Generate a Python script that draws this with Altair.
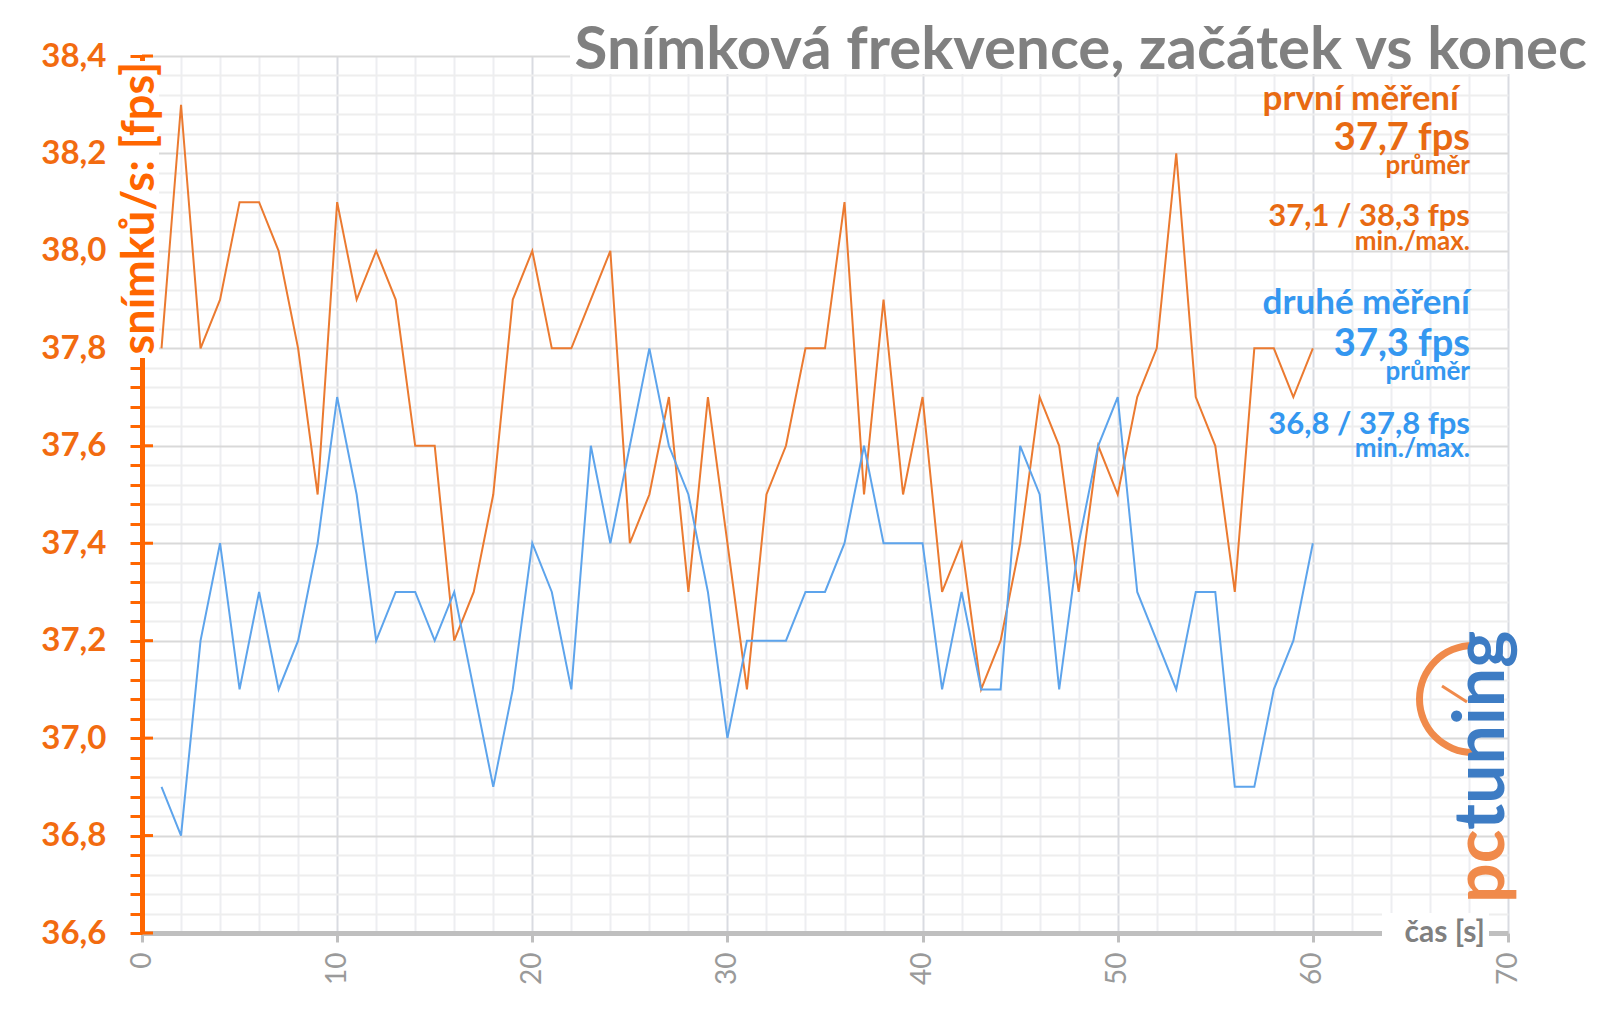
import altair as alt
import pandas as pd

# ---------------- data ----------------
TIME = list(range(1, 61))
FIRST = [37.8, 38.3, 37.8, 37.9, 38.1, 38.1, 38.0, 37.8, 37.5, 38.1,
         37.9, 38.0, 37.9, 37.6, 37.6, 37.2, 37.3, 37.5, 37.9, 38.0,
         37.8, 37.8, 37.9, 38.0, 37.4, 37.5, 37.7, 37.3, 37.7, 37.4,
         37.1, 37.5, 37.6, 37.8, 37.8, 38.1, 37.5, 37.9, 37.5, 37.7,
         37.3, 37.4, 37.1, 37.2, 37.4, 37.7, 37.6, 37.3, 37.6, 37.5,
         37.7, 37.8, 38.2, 37.7, 37.6, 37.3, 37.8, 37.8, 37.7, 37.8]
SECOND = [36.9, 36.8, 37.2, 37.4, 37.1, 37.3, 37.1, 37.2, 37.4, 37.7,
          37.5, 37.2, 37.3, 37.3, 37.2, 37.3, 37.1, 36.9, 37.1, 37.4,
          37.3, 37.1, 37.6, 37.4, 37.6, 37.8, 37.6, 37.5, 37.3, 37.0,
          37.2, 37.2, 37.2, 37.3, 37.3, 37.4, 37.6, 37.4, 37.4, 37.4,
          37.1, 37.3, 37.1, 37.1, 37.6, 37.5, 37.1, 37.4, 37.6, 37.7,
          37.3, 37.2, 37.1, 37.3, 37.3, 36.9, 36.9, 37.1, 37.2, 37.4]
SERIES = ["první měření", "druhé měření"]
AVERAGES = ["37,7 fps", "37,3 fps"]
MINMAX = ["37,1 / 38,3 fps", "36,8 / 37,8 fps"]
AVG_NOTE = "průměr"
MINMAX_NOTE = "min./max."
TITLE = "Snímková frekvence, začátek vs konec"
Y_TITLE = "snímků/s: [fps]"
X_TITLE = "čas [s]"
X_TICKS = list(range(0, 72, 2))
Y_TICKS = [round(36.6 + 0.04 * i, 2) for i in range(46)]
Y_MAJOR = [36.6, 36.8, 37.0, 37.2, 37.4, 37.6, 37.8, 38.0, 38.2, 38.4]

FONT = "Lato"
ORANGE_LINE = "#EB7A30"
BLUE_LINE = "#5DA4EC"
ORANGE_TEXT = "#E86A12"
BLUE_TEXT = "#3497F0"
AXIS_ORANGE = "#FF6600"
GRAY = "#808080"

W, H = 1366, 877

df = pd.DataFrame({
    "t": TIME * 2,
    "fps": FIRST + SECOND,
    "serie": [SERIES[0]] * 60 + [SERIES[1]] * 60,
})

one = pd.DataFrame({"a": [0]})

major_y_test = "abs(datum.value*5 - round(datum.value*5)) < 0.01"
major_x_test = "datum.value % 10 == 0"

x_scale = alt.Scale(domain=[0, 70], nice=False, zero=False)
y_scale = alt.Scale(domain=[36.6, 38.4], nice=False, zero=False)

x_axis = alt.Axis(
    values=X_TICKS, title=None,
    labelExpr=f"{major_x_test} ? datum.label : ''",
    labelAngle=270, labelAlign="right", labelBaseline="middle",
    labelFont=FONT, labelFontSize=28, labelColor="#9A9A9A",
    labelPadding=10,
    domainColor="#BFBFBF", domainWidth=5,
    tickColor="#BFBFBF", tickWidth=3,
    tickSize={"condition": {"test": major_x_test, "value": 9}, "value": 0},
    gridColor={"condition": {"test": major_x_test, "value": "#D9DBE1"}, "value": "#EDEEF1"},
    gridWidth=2,
)
y_axis = alt.Axis(
    values=Y_TICKS, title=None,
    labelExpr=f"{major_y_test} ? replace(format(datum.value, '.1f'), '.', ',') : ''",
    labelFont=FONT, labelFontSize=33, labelFontWeight="bold",
    labelColor="#F26B10", labelPadding=24,
    domainColor=AXIS_ORANGE, domainWidth=5,
    tickColor=AXIS_ORANGE, tickWidth=3, tickSize=12,
    gridColor={"condition": {"test": major_y_test, "value": "#D9D9D9"}, "value": "#EEEEEE"},
    gridWidth=2,
)

lines = alt.Chart(df).mark_line(strokeWidth=2).encode(
    x=alt.X("t:Q", scale=x_scale, axis=x_axis),
    y=alt.Y("fps:Q", scale=y_scale, axis=y_axis),
    color=alt.Color("serie:N", scale=alt.Scale(domain=SERIES, range=[ORANGE_LINE, BLUE_LINE]), legend=None),
    detail="serie:N",
)

tick_right = alt.Chart(pd.DataFrame({"v": Y_MAJOR})).mark_rule(
    color=AXIS_ORANGE, strokeWidth=3
).encode(y=alt.Y("v:Q", scale=y_scale, axis=y_axis), x=alt.value(0), x2=alt.value(11))

white_y = alt.Chart(one).mark_rect(color="white").encode(
    x=alt.value(-24), x2=alt.value(17), y=alt.value(5), y2=alt.value(302))
white_x = alt.Chart(one).mark_rect(color="white").encode(
    x=alt.value(1240), x2=alt.value(1347), y=alt.value(H - 20), y2=alt.value(H + 14))
white_title = alt.Chart(one).mark_rect(color="white").encode(
    x=alt.value(428), x2=alt.value(1450), y=alt.value(-34), y2=alt.value(18))


def txt(text, x, y, size, color, align="right", weight="bold", angle=0, baseline="alphabetic"):
    return alt.Chart(one).mark_text(
        text=text, font=FONT, fontSize=size, fontWeight=weight, color=color,
        align=align, baseline=baseline, angle=angle,
    ).encode(x=alt.value(x), y=alt.value(y))


texts = [
    txt(TITLE, 1445, 13, 60, GRAY),
    txt(Y_TITLE, -2, 6, 45, AXIS_ORANGE, align="right", angle=270, baseline="middle"),
    txt(X_TITLE, 1343, H, 30, GRAY, align="right", baseline="middle"),
    txt(SERIES[0], 1317, 54, 35, ORANGE_TEXT),
    txt(AVERAGES[0], 1328, 94, 38, ORANGE_TEXT),
    txt(AVG_NOTE, 1328, 118, 26, ORANGE_TEXT),
    txt(MINMAX[0], 1328, 170, 31, ORANGE_TEXT),
    txt(MINMAX_NOTE, 1328, 194, 26, ORANGE_TEXT),
    txt(SERIES[1], 1328, 258, 35, BLUE_TEXT),
    txt(AVERAGES[1], 1328, 300, 38, BLUE_TEXT),
    txt(AVG_NOTE, 1328, 324, 26, BLUE_TEXT),
    txt(MINMAX[1], 1328, 378, 31, BLUE_TEXT),
    txt(MINMAX_NOTE, 1328, 401, 26, BLUE_TEXT),
    # logo
    txt("pc", 1362, 847, 70, "#F08A4B", align="left", angle=270),
    txt("tuning", 1362, 774, 70, "#3D7CC4", align="left", angle=270),
]

logo_arc = alt.Chart(one).mark_arc(
    innerRadius=50, outerRadius=57, theta=3.1416, theta2=6.2832, color="#F08A4B"
).encode(x=alt.value(1331), y=alt.value(643))
needle = alt.Chart(one).mark_rule(color="#F08A4B", strokeWidth=3).encode(
    x=alt.value(1300), x2=alt.value(1325), y=alt.value(630), y2=alt.value(646))

chart = alt.layer(
    lines, tick_right, white_y, white_x, white_title, logo_arc, needle, *texts
).properties(
    width=W, height=H,
    autosize=alt.AutoSizeParams(type="none"),
    padding={"left": 134, "top": 48, "right": 84, "bottom": 66},
    background="white",
).configure_view(stroke=None)

chart.save("out.html", embed_options={"renderer": "svg", "actions": False})
